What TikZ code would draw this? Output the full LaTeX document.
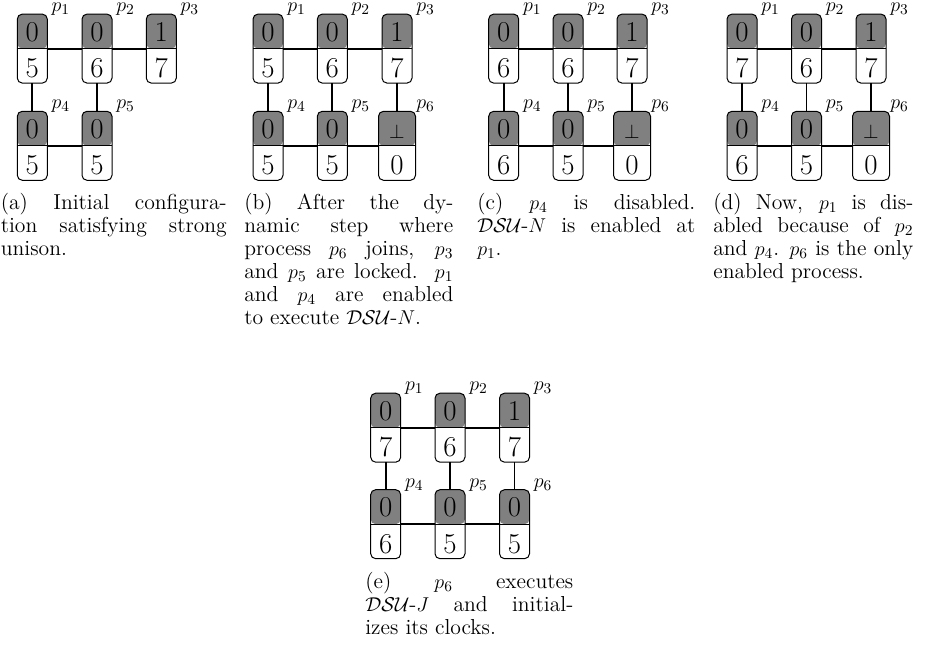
\documentclass[tikz,border=0pt]{standalone}
\usetikzlibrary{calc}
\definecolor{lockgray}{gray}{0.5}

% one process: a rounded box, grey upper half, white lower half
\tikzset{
  procbox/.style={draw=black, line width=0.6pt, rounded corners=3pt,
    minimum height=41.4pt, inner sep=0pt, outer sep=0pt,
    path picture={
      \fill[lockgray] (path picture bounding box.north west) rectangle (path picture bounding box.east);
      \draw[line width=0.8pt] (path picture bounding box.west) -- (path picture bounding box.east);}},
  clockval/.style={font=\fontsize{17.28}{20}\selectfont, inner sep=0pt, anchor=base},
  pname/.style={font=\fontsize{13}{13.8}\selectfont, inner sep=0pt, anchor=base west},
  link/.style={line width=1.1pt},
  caption/.style={font=\fontsize{13}{13.8}\selectfont, inner sep=0pt, anchor=north west}
}

% \proc[width]{name}{x}{y}{upper}{lower}{label}
\newcommand\proc[7][30]{%
  \node[procbox, minimum width=#1*0.6pt] (#2) at (#3,#4) {};
  \node[clockval] (#2-t) at ($(#2.center)+(0,-7.5)$) {#5};
  \node[clockval] (#2-b) at ($(#2.center)+(0,29)$) {#6};
  \node[pname] (#2-n) at ($(#2.center)+(19,-37.1)$) {$#7$};
}
\newcommand\botval{{\fontsize{13}{15}\selectfont$\bot$}}
\newcommand\capjust[1]{\hbox to \hsize{\strut#1}}
\newcommand\caplast[1]{\hbox to \hsize{\strut#1\hfil}}
\newcommand\capbox[2]{\vbox{\hsize=#1\relax #2}}
\newcommand\dsu{$\mathcal{DSU}$}

\begin{document}
\begin{tikzpicture}[x=0.6pt, y=-0.6pt]
\useasboundingbox (0,0) rectangle (927,647);

% (a)
\proc{a1}{32.3}{48.6}{0}{5}{p_1}
\proc{a2}{97}{48.6}{0}{6}{p_2}
\proc{a3}{161.3}{48.6}{1}{7}{p_3}
\proc{a4}{32.3}{145.8}{0}{5}{p_4}
\proc{a5}{97}{145.8}{0}{5}{p_5}
\draw[link] (a1.east) -- (a2.west);
\draw[link] (a2.east) -- (a3.west);
\draw[link] (a4.east) -- (a5.west);
\draw[link] (a1.south) -- (a4.north);
\draw[link] (a2.south) -- (a5.north);
\node[caption] (capa) at (0.5,192.9) {\capbox{135.6pt}{%
  \capjust{(a) Initial configura-}
  \capjust{tion satisfying strong}
  \caplast{unison.}}};

% (b)
\proc{b1}{268}{48.6}{0}{5}{p_1}
\proc{b2}{332.3}{48.6}{0}{6}{p_2}
\proc{b3}{397}{48.6}{1}{7}{p_3}
\proc{b4}{268}{145.8}{0}{5}{p_4}
\proc{b5}{332.3}{145.8}{0}{5}{p_5}
\proc[37]{b6}{397}{145.8}{\botval}{0}{p_6}
\draw[link] (b1.east) -- (b2.west);
\draw[link] (b2.east) -- (b3.west);
\draw[link] (b4.east) -- (b5.west);
\draw[link] (b5.east) -- (b6.west);
\draw[link] (b1.south) -- (b4.north);
\draw[link] (b2.south) -- (b5.north);
\draw[link] (b3.south) -- (b6.north);
\node[caption] (capb) at (244,192.9) {\capbox{125.4pt}{%
  \capjust{(b) After the dy-}
  \capjust{namic step where}
  \capjust{process $p_6$ joins, $p_3$}
  \capjust{and $p_5$ are locked. $p_1$}
  \capjust{and $p_4$ are enabled}
  \caplast{to execute \dsu-$N$.}}};

% (c)
\proc{c1}{503.7}{48.6}{0}{6}{p_1}
\proc{c2}{568}{48.6}{0}{6}{p_2}
\proc{c3}{632}{48.6}{1}{7}{p_3}
\proc{c4}{503.7}{145.8}{0}{6}{p_4}
\proc{c5}{568}{145.8}{0}{5}{p_5}
\proc[37]{c6}{632}{145.8}{\botval}{0}{p_6}
\draw[link] (c1.east) -- (c2.west);
\draw[link] (c2.east) -- (c3.west);
\draw[link] (c4.east) -- (c5.west);
\draw[link] (c5.east) -- (c6.west);
\draw[link] (c1.south) -- (c4.north);
\draw[link] (c2.south) -- (c5.north);
\draw[link] (c3.south) -- (c6.north);
\node[caption] (capc) at (477,192.9) {\capbox{130.8pt}{%
  \capjust{(c) $p_4$ is disabled.}
  \capjust{\dsu-$N$ is enabled at}
  \caplast{$p_1$.}}};

% (d)
\proc{d1}{742}{48.6}{0}{7}{p_1}
\proc{d2}{806.5}{48.6}{0}{6}{p_2}
\proc{d3}{871}{48.6}{1}{7}{p_3}
\proc{d4}{742}{145.8}{0}{6}{p_4}
\proc{d5}{806.5}{145.8}{0}{5}{p_5}
\proc[37]{d6}{871}{145.8}{\botval}{0}{p_6}
\draw[link] (d1.east) -- (d2.west);
\draw[link] (d2.east) -- (d3.west);
\draw[link] (d4.east) -- (d5.west);
\draw[link] (d5.east) -- (d6.west);
\draw[link] (d1.south) -- (d4.north);
\draw[link] (d2.south) -- (d5.north);
\draw[link] (d3.south) -- (d6.north);
\node[caption] (capd) at (713,192.9) {\capbox{120pt}{%
  \capjust{(d) Now, $p_1$ is dis-}
  \capjust{abled because of $p_2$}
  \capjust{and $p_4$. $p_6$ is the only}
  \caplast{enabled process.}}};

% (e)
\proc{e1}{385.7}{427.7}{0}{7}{p_1}
\proc{e2}{450}{427.7}{0}{6}{p_2}
\proc{e3}{514.5}{427.7}{1}{7}{p_3}
\proc{e4}{385.7}{524.2}{0}{6}{p_4}
\proc{e5}{450}{524.2}{0}{5}{p_5}
\proc{e6}{514.5}{524.2}{0}{5}{p_6}
\draw[link] (e1.east) -- (e2.west);
\draw[link] (e2.east) -- (e3.west);
\draw[link] (e4.east) -- (e5.west);
\draw[link] (e5.east) -- (e6.west);
\draw[link] (e1.south) -- (e4.north);
\draw[link] (e2.south) -- (e5.north);
\draw[link] (e3.south) -- (e6.north);
\node[caption] (cape) at (365,571.9) {\capbox{124.8pt}{%
  \capjust{(e) $p_6$ executes}
  \capjust{\dsu-$J$ and initial-}
  \caplast{izes its clocks.}}};
\end{tikzpicture}
\end{document}
